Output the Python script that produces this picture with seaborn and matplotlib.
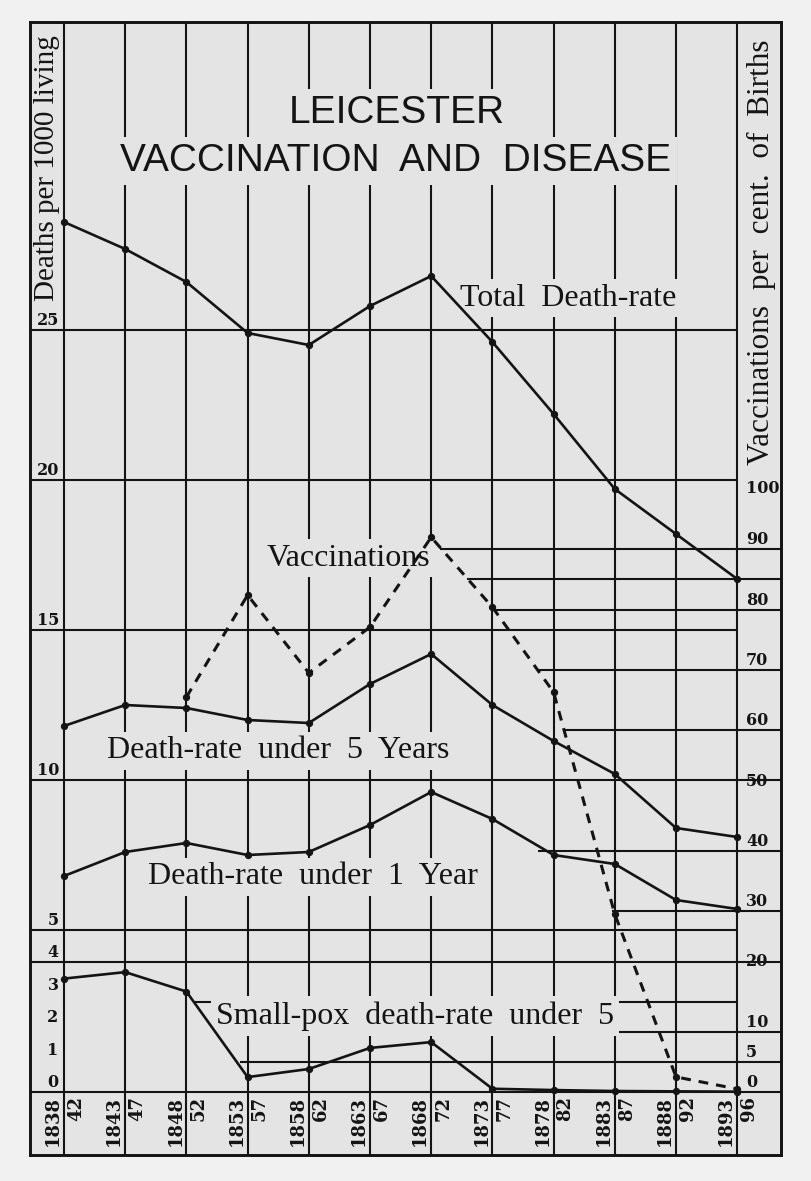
import numpy as np
import matplotlib
matplotlib.use("Agg")
import matplotlib.pyplot as plt
import seaborn as sns

# ---------------- data ----------------
period_start = ["1838", "1843", "1848", "1853", "1858", "1863",
                "1868", "1873", "1878", "1883", "1888", "1893"]
period_end = ["42", "47", "52", "57", "62", "67", "72", "77", "82", "87", "92", "96"]
total_death_rate = [28.6, 27.7, 26.6, 24.9, 24.5, 25.8, 26.8, 24.6, 22.2, 19.7, 18.2, 16.7]
death_rate_under5 = [11.8, 12.5, 12.4, 12.0, 11.9, 13.2, 14.2, 12.5, 11.3, 10.2, 8.4, 8.1]
death_rate_under1 = [6.8, 7.6, 7.9, 7.5, 7.6, 8.5, 9.6, 8.7, 7.5, 7.2, 6.0, 5.7]
smallpox_under5 = [3.5, 3.7, 3.1, 0.46, 0.71, 1.36, 1.54, 0.10, 0.06, 0.03, 0.02, 0.01]
vaccinations = [np.nan, np.nan, 65.5, 82.4, 69.5, 77.1, 92.0, 80.4, 66.3, 29.5, 2.5, 0.5]
left_ticks = [25, 20, 15, 10, 5, 4, 3, 2, 1, 0]
right_ticks = [100, 90, 80, 70, 60, 50, 40, 30, 20, 10, 5, 0]

# ---------------- layout / style ----------------
W, H = 812, 1181
FL, FR, FT, FB = 30, 781, 22, 1155          # frame in pixels
X0, DX = 64, 61.2                           # period line positions in pixels
INK = "#141414"
BG_FIG = "#f1f1f1"
BG_AX = "#e4e4e4"
SERIF = ["Liberation Serif", "DejaVu Serif"]
SANS = ["Liberation Sans", "DejaVu Sans"]
NUMF = ["DejaVu Serif"]

fig = plt.figure(figsize=(W / 100, H / 100), dpi=100, facecolor=BG_FIG)
ax = fig.add_axes([FL / W, 1 - FB / H, (FR - FL) / W, (FB - FT) / H])
ax.set_facecolor(BG_AX)
ax2 = ax.twinx()

idx = np.arange(len(period_start))
xl, xr = (FL - X0) / DX, (FR - X0) / DX

# ---- data series ----
line_kw = dict(color=INK, lw=1.9, marker="o", markersize=4.5, mec=INK, mfc=INK,
               legend=False, zorder=3)
sns.lineplot(x=idx, y=total_death_rate, ax=ax, **line_kw)
sns.lineplot(x=idx, y=death_rate_under5, ax=ax, **line_kw)
sns.lineplot(x=idx, y=death_rate_under1, ax=ax, **line_kw)
sns.lineplot(x=idx, y=smallpox_under5, ax=ax, **line_kw)
vac = np.array(vaccinations, dtype=float)
m = ~np.isnan(vac)
sns.lineplot(x=idx[m], y=vac[m], ax=ax2, color=INK, lw=2.2, linestyle=(0, (3.2, 2.6)),
             marker="o", markersize=4.5, mec=INK, mfc=INK, legend=False, zorder=3)

# ---- scales ----
def fwd(v):
    return np.interp(v, [-20, 0, 5, 60], [-648, 0, 162, 162 + 55 * 30])


def inv(p):
    return np.interp(p, [-648, 0, 162, 162 + 55 * 30], [-20, 0, 5, 60])


ax.set_yscale("function", functions=(fwd, inv))
ax.set_xlim(xl, xr)
ax.set_ylim(-(FB - 1092) / 32.4, 5 + (930 - FT) / 30)
ax2.set_ylim((1092 - FB) / 6.03, (1092 - FT) / 6.03)

for a in (ax, ax2):
    a.set_xticks([])
    a.set_yticks([])
    a.set_xlabel("")
    a.set_ylabel("")
    for s in a.spines.values():
        s.set_linewidth(1.9)
        s.set_color(INK)

# ---- ruled lines ----
ylo, yhi = ax.get_ylim()
ax.vlines(idx, ylo, yhi, color=INK, lw=1.5, zorder=1)
left_rules = [(25, 11.0), (20, 11.0), (15, 11.0), (10, xr), (5, 11.0), (4, xr), (0, xr)]
for v, xe in left_rules:
    ax.hlines(v, xl, xe, color=INK, lw=1.5, zorder=1)
right_rules = [(90, 6.14, xr), (85, 6.59, xr), (80, 6.99, xr), (70, 7.75, xr),
               (60, 8.15, xr), (40, 7.75, xr), (30, 8.95, xr), (15, 2.11, 11.0),
               (10, 2.5, xr), (5, 2.88, xr)]
for v, xs, xe in right_rules:
    ax.hlines(v, xs, xe, color=INK, lw=1.5, zorder=1, transform=ax2.transData)
ax.set_xlim(xl, xr)
ax.set_ylim(ylo, yhi)

# ---- axis numbers ----
for v in left_ticks:
    xpx = 48.5 if v >= 10 else 53
    ax.annotate(str(v), xy=((xpx - X0) / DX, v), xytext=(0, 1), textcoords="offset pixels",
                ha="center", va="bottom", fontsize=11.5, fontweight="bold",
                family=NUMF, color=INK, zorder=2)
for v in right_ticks:
    ax2.annotate(str(v), xy=((746 - X0) / DX, v), xytext=(0, 1), textcoords="offset pixels",
                 ha="left", va="center" if v == 100 else "bottom", fontsize=11.5,
                 fontweight="bold", family=NUMF, color=INK)
for i in idx:
    ax.annotate(period_start[i], xy=(i, 0), xytext=(-2, -4), textcoords="offset pixels",
                rotation=90, ha="right", va="top", fontsize=13, fontweight="bold",
                family=NUMF, color=INK)
    ax.annotate(period_end[i], xy=(i, 0), xytext=(3, -4), textcoords="offset pixels",
                rotation=90, ha="left", va="top", fontsize=13, fontweight="bold",
                family=NUMF, color=INK)

# ---- texts ----
mask = dict(boxstyle="square,pad=0.15", fc=BG_AX, ec="none")


def place(xpx, ypx, s, **kw):
    ax.text(xpx / W, 1 - ypx / H, s, transform=fig.transFigure, ha="center",
            va="center", color=INK, zorder=2, **kw)


place(397, 113, "LEICESTER", fontsize=28, family=SANS, bbox=mask)
place(396, 161, "VACCINATION  AND  DISEASE", fontsize=28, family=SANS, bbox=mask)
place(568, 298, "Total  Death-rate", fontsize=23, family=SERIF, bbox=mask)
place(348, 558, "Vaccinations", fontsize=23, family=SERIF, bbox=mask)
place(278, 751, "Death-rate  under  5  Years", fontsize=23, family=SERIF, bbox=mask)
place(313, 877, "Death-rate  under  1  Year", fontsize=23, family=SERIF, bbox=mask)
place(415, 1016, "Small-pox  death-rate  under  5", fontsize=23, family=SERIF, bbox=mask)
place(47, 168, "Deaths per 1000 living", fontsize=21, family=SERIF, rotation=90)
place(761, 252, "Vaccinations  per  cent.  of  Births", fontsize=22.5, family=SERIF,
      rotation=90)

fig.savefig("out.png", dpi=100, facecolor=BG_FIG)
